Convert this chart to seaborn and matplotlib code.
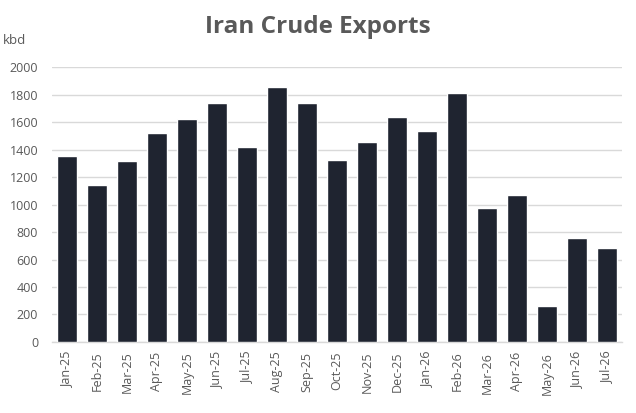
import numpy as np
import pandas as pd
import matplotlib
matplotlib.use("Agg")
import matplotlib.pyplot as plt
import seaborn as sns

# Monthly crude exports, kbd
months = ["Jan-25", "Feb-25", "Mar-25", "Apr-25", "May-25", "Jun-25", "Jul-25",
          "Aug-25", "Sep-25", "Oct-25", "Nov-25", "Dec-25", "Jan-26", "Feb-26",
          "Mar-26", "Apr-26", "May-26", "Jun-26", "Jul-26"]
exports = [1355, 1143, 1318, 1522, 1624, 1740, 1420, 1857, 1740, 1325,
           1456, 1638, 1536, 1813, 976, 1070, 262, 757, 684]
yticks = [0, 200, 400, 600, 800, 1000, 1200, 1400, 1600, 1800, 2000]

df = pd.DataFrame({"MONTH": months, "KBD": exports})

sns.set_style("white")
plt.rcParams["font.family"] = ["Open Sans", "DejaVu Sans"]

text_col = "#595959"
grid_col = "#d9d9d9"

fig = plt.figure(figsize=(6.36, 4.13), dpi=100)
ax = fig.add_axes([0.0818, 0.172, 0.896, 0.665])

sns.barplot(data=df, x="MONTH", y="KBD", color="#1f2430", saturation=1,
            width=0.667, ax=ax, zorder=3)

ax.set_ylim(0, 2000)
ax.set_xlim(-0.5, len(months) - 0.5)
ax.set_yticks(yticks)
ax.set_yticklabels([str(v) for v in yticks])
ax.yaxis.grid(True, color=grid_col, linewidth=1, zorder=0)
ax.set_axisbelow(True)

for s in ["top", "right", "left"]:
    ax.spines[s].set_visible(False)
ax.spines["bottom"].set_color(grid_col)
ax.spines["bottom"].set_linewidth(1)

ax.tick_params(axis="y", length=0, pad=10, labelsize=9, labelcolor=text_col)
ax.tick_params(axis="x", length=0, pad=7, labelsize=9, labelcolor=text_col,
               rotation=90)
# little dividers between categories
ax.set_xticks(np.arange(-0.5, len(months), 1), minor=True)
ax.tick_params(axis="x", which="minor", length=5, color=grid_col, width=1)

ax.set_xlabel("")
ax.set_ylabel("")

fig.text(0.005, 0.903, "kbd", fontsize=9.5, color=text_col, va="center")
fig.text(0.499, 0.935, "Iran Crude Exports", fontsize=17.5, fontweight="bold",
         color=text_col, ha="center", va="center")

fig.savefig("out.png", dpi=100)
